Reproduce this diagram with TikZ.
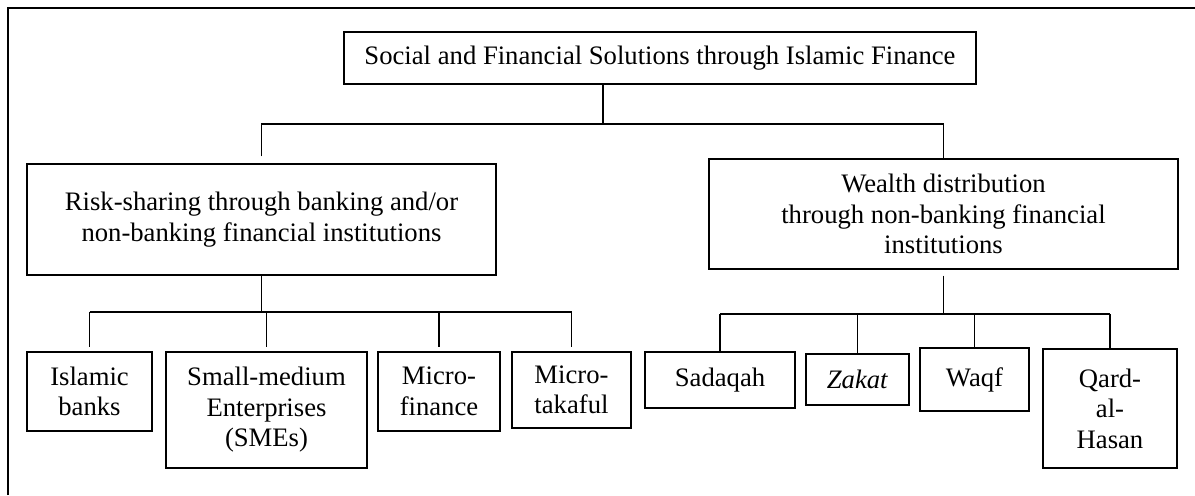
\documentclass[tikz,border=0pt]{standalone}
\usepackage{fontspec}
\setmainfont{Liberation Serif}
\usepackage{tikz}

\newlength{\pxunit}
\setlength{\pxunit}{0.45pt}

\begin{document}
\begin{tikzpicture}[x=1\pxunit,y=-1\pxunit,line width=0.6pt,orgbox/.style n args={2}{draw,rectangle,align=center,inner sep=0pt,minimum width=#1\pxunit,minimum height=#2\pxunit,font=\fontsize{12}{13.7}\selectfont}]
\useasboundingbox (0,0) rectangle (1195,495);
\draw (8,495) -- (8,8) -- (1195,8);
\node[orgbox={632}{52}] (top) at (660,58) {Social and Financial Solutions through Islamic Finance};
\node[orgbox={469}{111}] (risk) at (261.5,219.5) {Risk-sharing through banking and/or\\non-banking financial institutions};
\node[orgbox={469}{110}] (wealth) at (943.5,214) {Wealth distribution\\through non-banking financial\\institutions};
\node[orgbox={125}{79}] (banks) at (89.5,391.5) {Islamic\\banks};
\node[orgbox={201}{116}] (smes) at (266.5,410) {Small-medium\\Enterprises\\(SMEs)};
\node[orgbox={122}{79}] (mfin) at (439,391.5) {Micro-\\finance};
\node[orgbox={119}{76}] (mtak) at (571.5,390) {Micro-\\takaful};
\node[orgbox={150}{56}] (sadaqah) at (720,380) {Sadaqah};
\node[orgbox={103}{51}] (zakat) at (857.5,379.5) {\textit{Zakat}};
\node[orgbox={109}{63}] (waqf) at (974.5,379.5) {Waqf};
\node[orgbox={134}{119}] (qard) at (1110,408.5) {Qard-\\al-\\Hasan};
\coordinate (rootbus) at (603,124);
\coordinate (riskbus) at (261,312);
\coordinate (wealthbus) at (947,314);
% first level
\draw (rootbus |- top.south) -- (rootbus);
\draw[shorten <=7\pxunit] (risk.north) |- (rootbus) -| (wealth.north);
% risk-sharing branch
\draw (risk.south) -- (risk.south |- riskbus);
\draw (banks.north |- riskbus) -- (mtak.north |- riskbus);
\foreach \n in {banks,smes,mfin,mtak} {
   \draw[shorten >=4\pxunit] (\n.north |- riskbus) -- (\n.north);
}
% wealth branch
\draw[shorten <=6\pxunit] (wealth.south) -- (wealth.south |- wealthbus);
\draw (sadaqah.north |- wealthbus) -- (qard.north |- wealthbus);
\foreach \n in {sadaqah,zakat,waqf,qard} {
   \draw (\n.north |- wealthbus) -- (\n.north);
}
\end{tikzpicture}
\end{document}
